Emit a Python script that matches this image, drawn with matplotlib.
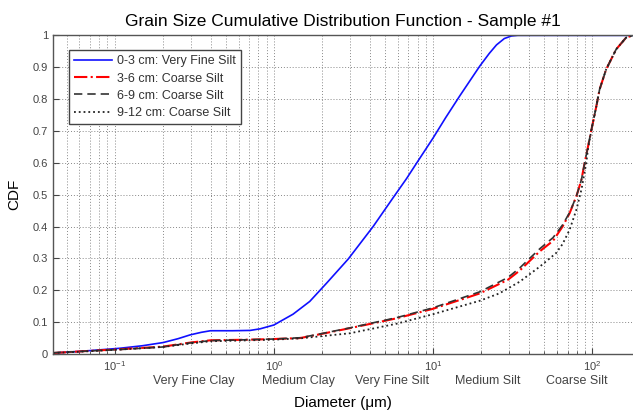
import matplotlib
matplotlib.use("Agg")
import matplotlib.pyplot as plt
from matplotlib.ticker import LogLocator, FixedLocator, FixedFormatter, NullFormatter

plt.rcParams['font.family'] = ['Liberation Sans', 'DejaVu Sans']

# Grain size distributions (diameter in micrometres, cumulative fraction)
d_0_3 = [0.041, 0.06, 0.108, 0.15, 0.202, 0.25, 0.298, 0.35, 0.40, 0.55, 0.71,
         0.82, 1.0, 1.32, 1.68, 2.14, 2.93, 4.2, 5.6, 6.8, 7.9, 10, 12, 14.7,
         17, 19.6, 22.5, 25, 28, 31, 34, 180]
cdf_0_3 = [0.003, 0.008, 0.018, 0.026, 0.036, 0.048, 0.060, 0.068, 0.073, 0.073,
           0.074, 0.079, 0.091, 0.125, 0.165, 0.222, 0.298, 0.400, 0.490, 0.550,
           0.600, 0.678, 0.742, 0.810, 0.857, 0.903, 0.943, 0.970, 0.990, 0.998,
           1.0, 1.0]

d_3_6 = [0.041, 0.06, 0.108, 0.2, 0.3, 0.4, 0.71, 1.0, 1.46, 1.86, 3.0, 5.9, 10,
         19.6, 29.5, 35, 40, 46.7, 56.6, 65, 72, 79.4, 85.4, 89.5, 94, 98.7, 106,
         111, 122, 141, 163, 180]
cdf_3_6 = [0.003, 0.008, 0.015, 0.023, 0.036, 0.043, 0.045, 0.047, 0.050, 0.060,
           0.081, 0.112, 0.142, 0.190, 0.233, 0.262, 0.290, 0.322, 0.355, 0.400,
           0.442, 0.495, 0.547, 0.600, 0.652, 0.704, 0.778, 0.830, 0.893, 0.956,
           0.993, 1.0]

d_6_9 = [0.041, 0.06, 0.108, 0.2, 0.3, 0.4, 0.71, 1.0, 1.46, 1.86, 3.0, 5.9, 10,
         19.6, 29.5, 35, 40, 46.7, 56.6, 65, 72, 79.4, 85.4, 89.5, 94, 98.7, 106,
         111, 122, 141, 163, 180]
cdf_6_9 = [0.004, 0.008, 0.014, 0.022, 0.035, 0.042, 0.045, 0.047, 0.051, 0.061,
           0.082, 0.114, 0.145, 0.195, 0.240, 0.270, 0.298, 0.330, 0.365, 0.405,
           0.444, 0.495, 0.547, 0.600, 0.652, 0.704, 0.778, 0.830, 0.893, 0.956,
           0.993, 1.0]

d_9_12 = [0.041, 0.06, 0.108, 0.2, 0.3, 0.4, 0.71, 1.0, 1.46, 3.0, 5.9, 10, 19.6,
          26, 35, 46.7, 59, 65, 72, 79.4, 85.4, 91.6, 94, 98.7, 106, 111, 122,
          141, 163, 180]
cdf_9_12 = [0.003, 0.007, 0.014, 0.022, 0.033, 0.040, 0.043, 0.045, 0.049, 0.065,
            0.095, 0.125, 0.167, 0.190, 0.227, 0.274, 0.316, 0.345, 0.390, 0.453,
            0.516, 0.600, 0.645, 0.704, 0.778, 0.830, 0.893, 0.956, 0.993, 1.0]

labels = ["0-3 cm: Very Fine Silt", "3-6 cm: Coarse Silt",
          "6-9 cm: Coarse Silt", "9-12 cm: Coarse Silt"]

y_ticks = [0, 0.1, 0.2, 0.3, 0.4, 0.5, 0.6, 0.7, 0.8, 0.9, 1.0]
y_tick_labels = ["0", "0.1", "0.2", "0.3", "0.4", "0.5", "0.6", "0.7", "0.8", "0.9", "1"]

class_names = ["Very Fine Clay", "Medium Clay", "Very Fine Silt", "Medium Silt", "Coarse Silt"]
class_pos = [0.315, 1.42, 5.5, 22, 80]

x_min, x_max = 0.041, 180

fig = plt.figure(figsize=(6.33, 4.15), dpi=100)
ax = fig.add_axes([0.0837, 0.147, 0.9163, 0.7678])

ax.plot(d_0_3, cdf_0_3, '-', color='#1010ff', lw=1.2, label=labels[0])
ax.plot(d_3_6, cdf_3_6, '-.', color='#ff0000', lw=1.5, label=labels[1])
ax.plot(d_6_9, cdf_6_9, '--', color='#333333', lw=1.2, dashes=(5, 3), label=labels[2])
ax.plot(d_9_12, cdf_9_12, ':', color='#222222', lw=1.3, label=labels[3])

ax.set_xscale('log')
ax.set_xlim(x_min, x_max)
ax.set_ylim(0, 1)

ax.xaxis.set_major_locator(LogLocator(base=10, numticks=10))
ax.xaxis.set_minor_locator(LogLocator(base=10, subs=range(2, 10), numticks=20))
ax.xaxis.set_minor_formatter(NullFormatter())
ax.yaxis.set_major_locator(FixedLocator(y_ticks))
ax.yaxis.set_major_formatter(FixedFormatter(y_tick_labels))

ax.grid(True, which='major', axis='both', linestyle=(0, (1, 2)), color='#888888', lw=0.7)
ax.grid(True, which='minor', axis='x', linestyle=(0, (1, 2)), color='#888888', lw=0.7)
ax.set_axisbelow(True)

ax.tick_params(which='both', direction='in', colors='#444444', labelsize=8,
               labelcolor='#444444', top=False, right=False)
ax.tick_params(which='major', length=4)
ax.tick_params(which='minor', length=2.5)
for side in ('left', 'bottom', 'top'):
    ax.spines[side].set_color('#555555')
    ax.spines[side].set_linewidth(1.0)
ax.spines['right'].set_visible(False)

for name, pos in zip(class_names, class_pos):
    ax.text(pos, -0.084, name, transform=ax.get_xaxis_transform(),
            ha='center', va='center', fontsize=9, color='#444444')

ax.set_xlabel("Diameter (\u03bcm)", fontsize=11, labelpad=17)
ax.set_ylabel("CDF", fontsize=11, labelpad=8)
ax.set_title("Grain Size Cumulative Distribution Function - Sample #1", fontsize=12.5, pad=7)

leg = ax.legend(loc='upper left', bbox_to_anchor=(0.028, 0.953), borderaxespad=0,
                fontsize=9, handlelength=3.0, handletextpad=0.4, labelspacing=0.42,
                borderpad=0.4, fancybox=False, framealpha=1, edgecolor='#444444')
leg.get_frame().set_linewidth(1.0)
for t in leg.get_texts():
    t.set_color('#333333')

fig.savefig("out.png", dpi=100)
